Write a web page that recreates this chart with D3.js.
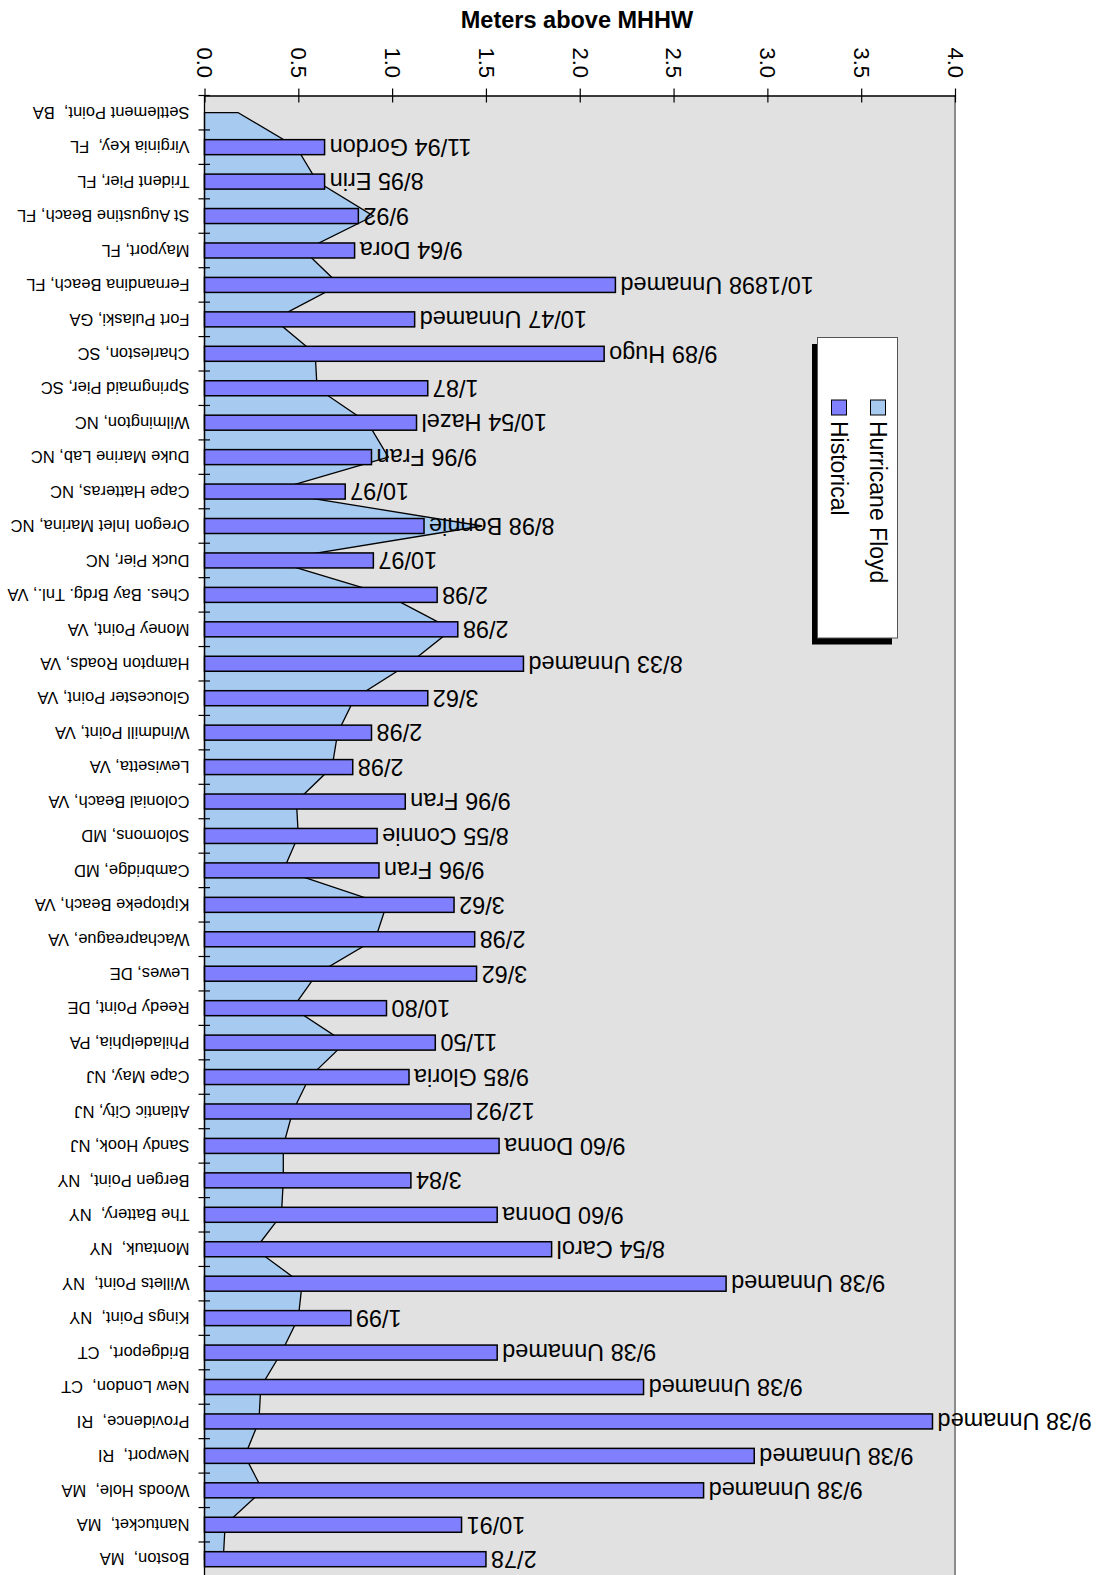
<!DOCTYPE html>
<html>
<head>
<meta charset="utf-8">
<script src="https://cdn.jsdelivr.net/npm/d3@7"></script>
<style>
  html, body { margin: 0; padding: 0; background: #ffffff; }
  svg { display: block; }
  text { font-family: "Liberation Sans", Arial, sans-serif; white-space: pre; }
</style>
</head>
<body>
<div id="chart"></div>
<script>
const stations = [
  "Settlement Point,  BA", "Virginia Key,  FL", "Trident Pier, FL", "St Augustine Beach, FL",
  "Mayport, FL", "Fernandina Beach, FL", "Fort Pulaski, GA", "Charleston, SC",
  "Springmaid Pier, SC", "Wilmington, NC", "Duke Marine Lab, NC", "Cape Hatteras, NC",
  "Oregon Inlet Marina, NC", "Duck Pier, NC", "Ches. Bay Brdg. Tnl., VA", "Money Point, VA",
  "Hampton Roads, VA", "Gloucester Point, VA", "Windmill Point, VA", "Lewisetta, VA",
  "Colonial Beach, VA", "Solomons, MD", "Cambridge, MD", "Kiptopeke Beach, VA",
  "Wachapreague, VA", "Lewes, DE", "Reedy Point, DE", "Philadelphia, PA",
  "Cape May, NJ", "Atlantic City, NJ", "Sandy Hook, NJ", "Bergen Point,  NY",
  "The Battery,  NY", "Montauk,  NY", "Willets Point,  NY", "Kings Point,  NY",
  "Bridgeport,  CT", "New London,  CT", "Providence,  RI", "Newport,  RI",
  "Woods Hole,  MA", "Nantucket,  MA", "Boston,  MA"
];

// Hurricane Floyd peak water level (m above MHHW)
const floyd = [
  0.18, 0.49, 0.60, 0.90, 0.53, 0.72, 0.37, 0.59,
  0.60, 0.87, 0.98, 0.35, 1.48, 0.36, 0.97, 1.32,
  1.09, 0.80, 0.71, 0.68, 0.49, 0.50, 0.42, 0.97,
  0.91, 0.60, 0.47, 0.75, 0.56, 0.47, 0.42, 0.42,
  0.41, 0.27, 0.52, 0.50, 0.41, 0.30, 0.29, 0.215,
  0.31, 0.11, 0.10
];

// Historical maximum (m above MHHW)
const historical = [
  null, 0.64, 0.64, 0.82, 0.80, 2.19, 1.12, 2.13,
  1.19, 1.13, 0.89, 0.75, 1.17, 0.90, 1.24, 1.35,
  1.70, 1.19, 0.89, 0.79, 1.07, 0.92, 0.93, 1.33,
  1.44, 1.45, 0.97, 1.23, 1.09, 1.42, 1.57, 1.10,
  1.56, 1.85, 2.78, 0.78, 1.56, 2.34, 3.88, 2.93,
  2.66, 1.37, 1.50
];

const histLabels = [
  "", "11/94 Gordon", "8/95 Erin", "9/92", "9/64 Dora", "10/1898 Unnamed", "10/47 Unnamed", "9/89 Hugo",
  "1/87", "10/54 Hazel", "9/96 Fran", "10/97", "8/98 Bonnie", "10/97", "2/98", "2/98",
  "8/33 Unnamed", "3/62", "2/98", "2/98", "9/96 Fran", "8/55 Connie", "9/96 Fran", "3/62",
  "2/98", "3/62", "10/80", "11/50", "9/85 Gloria", "12/92", "9/60 Donna", "3/84",
  "9/60 Donna", "8/54 Carol", "9/38 Unnamed", "1/99", "9/38 Unnamed", "9/38 Unnamed", "9/38 Unnamed", "9/38 Unnamed",
  "9/38 Unnamed", "10/91", "2/78"
];

const xTicks = [0, 0.5, 1.0, 1.5, 2.0, 2.5, 3.0, 3.5, 4.0];
const seriesNames = ["Hurricane Floyd", "Historical"];
const seriesColors = ["#a6caf0", "#8080ff"];
const axisTitle = "Meters above MHHW";

(function () {
const W = 1099, H = 1575;
const pLeft = 204.5, pRight = 955, pTop = 95.5, band = 34.44;

const svg = d3.select("#chart").append("svg").attr("width", W).attr("height", H);

const x = d3.scaleLinear().domain([0, 4]).range([pLeft, pRight]);
const y = d3.scaleBand().domain(stations).range([pTop, pTop + band * stations.length]).padding(0);
const bw = y.bandwidth();
const cy = s => y(s) + bw / 2;

// plot area
svg.append("rect").attr("x", pLeft).attr("y", pTop).attr("width", pRight - pLeft).attr("height", H - pTop + 5)
  .attr("fill", "#e1e1e1");
svg.append("line").attr("x1", pRight).attr("x2", pRight).attr("y1", pTop).attr("y2", H + 5)
  .attr("stroke", "#8c8c8c").attr("stroke-width", 2);

// Hurricane Floyd area
const floydData = stations.map((s, i) => ({ s, v: floyd[i] }));
const area = d3.area().y(d => cy(d.s)).x0(x(0)).x1(d => x(d.v));
svg.append("path").datum(floydData).attr("d", area)
  .attr("fill", seriesColors[0]).attr("stroke", "#000").attr("stroke-width", 1.3)
  .attr("stroke-linejoin", "miter");

// Historical bars
const histData = stations.map((s, i) => ({ s, v: historical[i], label: histLabels[i] })).filter(d => d.v != null);
const barH = 15;
svg.append("g").selectAll("rect").data(histData).join("rect")
  .attr("x", x(0)).attr("y", d => cy(d.s) - barH / 2)
  .attr("width", d => x(d.v) - x(0)).attr("height", barH)
  .attr("fill", seriesColors[1]).attr("stroke", "#000").attr("stroke-width", 1.5);

svg.append("g").selectAll("text").data(histData).join("text")
  .attr("x", d => x(d.v) + 5).attr("y", d => cy(d.s))
  .attr("transform", d => `rotate(180, ${x(d.v) + 5}, ${cy(d.s)})`)
  .attr("text-anchor", "end").attr("dy", "0.35em")
  .attr("font-size", "23.5px").attr("fill", "#000")
  .text(d => d.label);

// category axis
svg.append("line").attr("x1", pLeft).attr("x2", pLeft).attr("y1", pTop).attr("y2", H + 5)
  .attr("stroke", "#000").attr("stroke-width", 1.3);
svg.append("g").selectAll("line").data(stations).join("line")
  .attr("x1", pLeft - 6).attr("x2", pLeft + 5.5)
  .attr("y1", d => y(d)).attr("y2", d => y(d))
  .attr("stroke", "#000").attr("stroke-width", 1.2);
svg.append("g").selectAll("text").data(stations).join("text")
  .attr("x", 189.5).attr("y", d => cy(d))
  .attr("transform", d => `rotate(180, 189.5, ${cy(d)})`)
  .attr("text-anchor", "start").attr("dy", "0.35em")
  .attr("font-size", "16.5px").attr("fill", "#000")
  .text(d => d);

// value axis (top)
const gx = svg.append("g").attr("transform", `translate(0, ${pTop})`)
  .call(d3.axisTop(x).tickValues(xTicks).tickFormat(d3.format(".1f")).tickSize(7).tickSizeOuter(0));
gx.select(".domain").attr("stroke", "#000").attr("stroke-width", 1.3);
gx.selectAll(".tick line").attr("y1", 7).attr("y2", -7).attr("stroke", "#000").attr("stroke-width", 1.2);
gx.selectAll(".tick text")
  .attr("x", 0).attr("y", 0).attr("dy", "0.35em")
  .attr("transform", "translate(0, -17.5) rotate(90)")
  .attr("text-anchor", "end")
  .attr("font-size", "22px").attr("font-family", "Liberation Sans, Arial, sans-serif").attr("fill", "#000");

// title
svg.append("text").attr("x", 577).attr("y", 20).attr("dy", "0.35em")
  .attr("text-anchor", "middle").attr("font-weight", "bold").attr("font-size", "23.5px")
  .text(axisTitle);

// legend
const lg = { x: 817.5, y: 337.5, w: 80, h: 300.5 };
svg.append("rect").attr("x", lg.x - 5.5).attr("y", lg.y + 6.5).attr("width", lg.w).attr("height", lg.h).attr("fill", "#000");
svg.append("rect").attr("x", lg.x).attr("y", lg.y).attr("width", lg.w).attr("height", lg.h)
  .attr("fill", "#fff").attr("stroke", "#555").attr("stroke-width", 1);
const legendCols = [878, 839];
seriesNames.forEach((name, i) => {
  svg.append("rect").attr("x", legendCols[i] - 7.5).attr("y", 400).attr("width", 15).attr("height", 15)
    .attr("fill", seriesColors[i]).attr("stroke", "#000").attr("stroke-width", 1);
  svg.append("text").attr("x", 0).attr("y", 0).attr("dy", "0.35em")
    .attr("transform", `translate(${legendCols[i]}, 421) rotate(90)`)
    .attr("text-anchor", "start").attr("font-size", "23px")
    .text(name);
});
})();
</script>
</body>
</html>
